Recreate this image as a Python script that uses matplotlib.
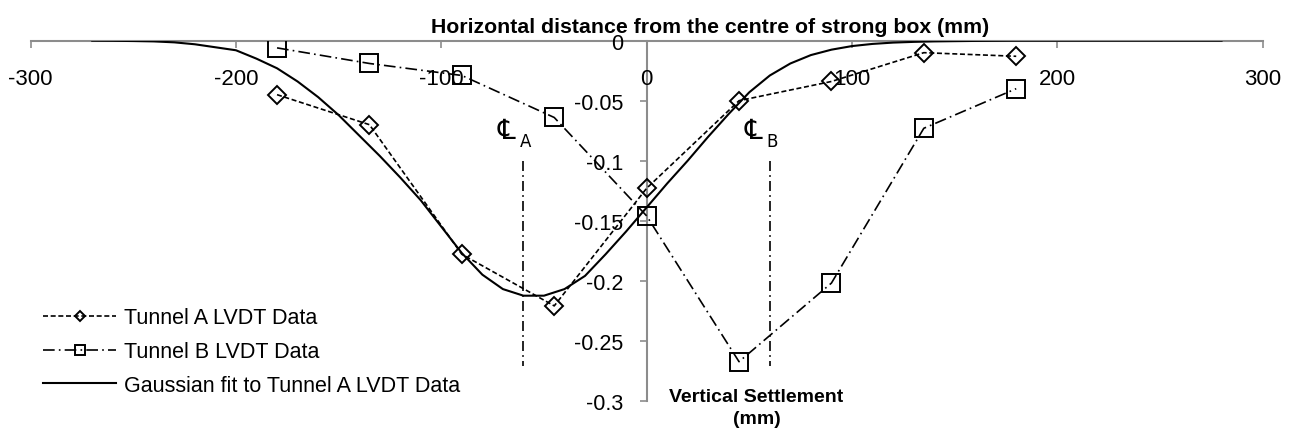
import numpy as np
import matplotlib.pyplot as plt

plt.rcParams['font.family'] = ['Liberation Sans', 'DejaVu Sans']

# --- data ---
x_pos = [-180, -135, -90, -45, 0, 45, 90, 135, 180]
tunnel_a = [-0.045, -0.070, -0.178, -0.221, -0.123, -0.050, -0.034, -0.010, -0.013]
tunnel_b = [-0.006, -0.019, -0.029, -0.064, -0.146, -0.2675, -0.202, -0.073, -0.040]

# Gaussian fit curve
fit_x = [-270, -260, -250, -240, -230, -220, -210, -200, -190, -180, -170, -160,
         -150, -140, -130, -120, -110, -100, -90, -80, -70, -60, -50, -40, -30,
         -20, -10, 0, 10, 20, 30, 40, 50, 60, 70, 80, 90, 100, 110, 120, 130,
         140, 160, 180, 280]
fit_y = [0.0, -0.0001, -0.0003, -0.0006, -0.0014, -0.003, -0.0055, -0.008, -0.015,
         -0.023, -0.034, -0.047, -0.062, -0.079, -0.096, -0.114, -0.133, -0.155,
         -0.177, -0.195, -0.207, -0.2125, -0.2125, -0.207, -0.196, -0.178, -0.159,
         -0.139, -0.119, -0.100, -0.080, -0.061, -0.043, -0.029, -0.019, -0.012,
         -0.0075, -0.0045, -0.0027, -0.0016, -0.001, -0.0006, -0.0002, 0.0, 0.0]

# tunnel centre lines
cl_x = [-60, 60]
cl_names = ['A', 'B']
cl_top, cl_bottom = -0.100, -0.271

x_ticks = [-300, -200, -100, 0, 100, 200, 300]
y_ticks = [0, -0.05, -0.1, -0.15, -0.2, -0.25, -0.3]
y_labels = ['0', '-0.05', '-0.1', '-0.15', '-0.2', '-0.25', '-0.3']

fig = plt.figure(figsize=(12.93, 4.31), dpi=100)
ax = fig.add_axes([0.0237, 0.068, 0.9528, 0.8353])

la, = ax.plot(x_pos, tunnel_a, color='black', lw=1.2, dashes=(3, 1.6),
              marker='D', ms=9, mfc='none', mec='black', mew=1.4,
              label='Tunnel A LVDT Data', zorder=4)
lb, = ax.plot(x_pos, tunnel_b, color='black', lw=1.2, dashes=(7, 2.5, 1, 2.5),
              marker='s', ms=13, mfc='none', mec='black', mew=1.4,
              label='Tunnel B LVDT Data', zorder=4)
lg, = ax.plot(fit_x, fit_y, color='black', lw=1.5,
              label='Gaussian fit to Tunnel A LVDT Data', zorder=3)

for cx, nm in zip(cl_x, cl_names):
    ax.plot([cx, cx], [cl_top, cl_bottom], color='black', lw=1.2,
            dashes=(6, 2.5, 1, 2.5), zorder=2)
    ax.text(cx - 8, cl_top + 0.025, '\u2104', fontsize=20, ha='center', va='center',
            family=['DejaVu Serif', 'DejaVu Sans'])
    ax.text(cx + 1, cl_top + 0.016, nm, fontsize=12, ha='center', va='center',
            family=['DejaVu Sans'])

ax.set_xlim(-300, 300)
ax.set_ylim(-0.3, 0)

for s in ['top', 'right']:
    ax.spines[s].set_visible(False)
ax.spines['left'].set_position(('data', 0))
ax.spines['bottom'].set_position(('data', 0))
for s in ['left', 'bottom']:
    ax.spines[s].set_color('#8c8c8c')
    ax.spines[s].set_linewidth(1.5)
    ax.spines[s].set_zorder(1)

ax.set_xticks(x_ticks)
ax.set_xticklabels([str(v) for v in x_ticks])
ax.set_yticks(y_ticks)
ax.set_yticklabels(y_labels)
ax.tick_params(axis='x', direction='out', length=5, width=1.2, color='#8c8c8c',
               labelsize=16, pad=15)
ax.tick_params(axis='y', direction='out', length=5, width=1.2, color='#8c8c8c',
               labelsize=15.5, pad=12)

fig.text(0.549, 0.937, 'Horizontal distance from the centre of strong box (mm)',
         fontsize=15.3, fontweight='bold', ha='center', va='center')
fig.text(0.585, 0.053, 'Vertical Settlement\n(mm)', fontsize=14, fontweight='bold',
         ha='center', va='center', linespacing=1.4)

fig.legend(handles=[la, lb, lg], loc='upper left', bbox_to_anchor=(0.025, 0.31),
           frameon=False, fontsize=15.5, handlelength=3.4, handletextpad=0.35,
           markerscale=0.55, labelspacing=0.6, borderpad=0)

fig.savefig('out.png', dpi=100)
